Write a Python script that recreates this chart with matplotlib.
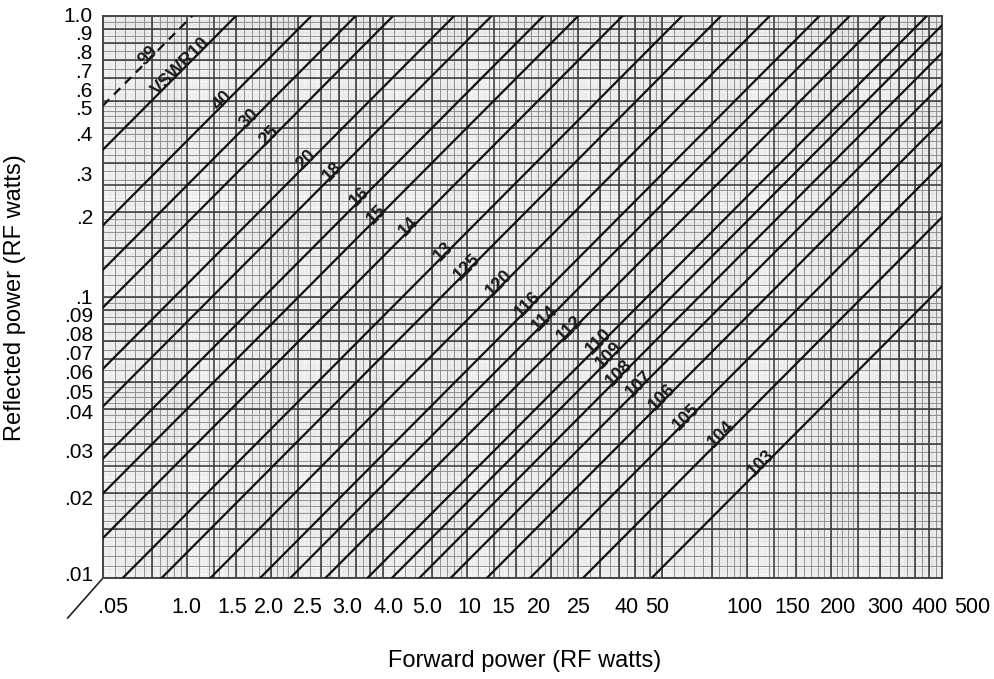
import numpy as np
import matplotlib
matplotlib.use("Agg")
import matplotlib.pyplot as plt
from matplotlib.transforms import offset_copy

plt.rcParams['font.family'] = ['Liberation Sans', 'DejaVu Sans']

# VSWR lines drawn on the chart and the text printed on each of them
vswr = [99, 10, 4.0, 3.0, 2.5, 2.0, 1.8, 1.6, 1.5, 1.4, 1.3, 1.25, 1.20, 1.16, 1.14, 1.12,
        1.10, 1.09, 1.08, 1.07, 1.06, 1.05, 1.04, 1.03]
vswr_text = ['99', 'VSWR10', '40', '30', '25', '20', '18', '16', '15', '14', '13', '125', '120',
             '116', '114', '112', '110', '109', '108', '107', '106', '105', '104', '103']
# forward power at which each label sits on its line
vswr_label_x = [0.74, 0.97, 1.36, 1.70, 2.0, 2.72, 3.37, 4.2, 4.84, 6.3, 8.4, 10.2, 13.3,
                16.8, 19.3, 23.7, 30.2, 33.0, 35.7, 42.0, 51, 62, 83, 115]

# axis ranges (log paper: 3 cycles across, 2 cycles up)
x_range = (0.5, 500)
y_range = (0.01, 1.0)

# printed axis labels, as they appear on the chart
x_labels = ['.05', '1.0', '1.5', '2.0', '2.5', '3.0', '4.0', '5.0', '10', '15', '20', '25',
            '40', '50', '100', '150', '200', '300', '400', '500']
x_label_pos = [0.012, 0.099, 0.154, 0.198, 0.244, 0.291, 0.340, 0.386, 0.437, 0.477, 0.519,
               0.567, 0.624, 0.660, 0.765, 0.821, 0.876, 0.932, 0.985, 1.036]
y_labels = ['1.0', '.9', '.8', '.7', '.6', '.5', '.4', '.3', '.2', '.1', '.09', '.08', '.07',
            '.06', '.05', '.04', '.03', '.02', '.01']
y_label_pos = [1.0, 0.968, 0.934, 0.900, 0.866, 0.833, 0.788, 0.717, 0.639, 0.498, 0.466,
               0.432, 0.398, 0.364, 0.329, 0.292, 0.224, 0.139, 0.005]

fig = plt.figure(figsize=(9.94, 6.79), dpi=100)
ax = fig.add_axes([0.1036, 0.1487, 0.8441, 0.8277])
ax.set_xscale('log')
ax.set_yscale('log')
ax.set_xlim(*x_range)
ax.set_ylim(*y_range)


def paper(starts, steps):
    vals = []
    for s in starts:
        for lo, hi, st in steps:
            vals.extend(s * np.arange(lo, hi - 1e-9, st))
    return vals


heavy = [(1, 1.01, 1), (1.5, 1.51, 1), (2, 2.01, 1), (2.5, 2.51, 1), (3, 10, 1)]
minor = [(1, 2, 0.1), (2, 5, 0.2), (5, 10, 0.5)]
fine = [(1, 2, 0.02), (2, 5, 0.05), (5, 10, 0.1)]
xs0 = [0.5, 5, 50]
ys0 = [0.01, 0.1]
for steps, col, lw in [(fine, '#d4d4d4', 0.35), (minor, '#8c8c8c', 0.65), (heavy, '#3c3c3c', 1.15)]:
    for v in paper(xs0, steps):
        ax.axvline(v, color=col, lw=lw, zorder=1)
    for v in paper(ys0, steps):
        ax.axhline(v, color=col, lw=lw, zorder=1)

for sp in ax.spines.values():
    sp.set_color('#444444')
    sp.set_linewidth(1.4)
ax.set_xticks([])
ax.set_yticks([])
ax.minorticks_off()

xx = np.logspace(np.log10(x_range[0]), np.log10(x_range[1]), 400)
for s, txt, lx in zip(vswr, vswr_text, vswr_label_x):
    r = ((s - 1) / (s + 1)) ** 2
    ls = (0, (4, 3)) if s == 99 else '-'
    ax.plot(xx, r * xx, color='#111111', lw=1.6, ls=ls, zorder=3)
    tr = offset_copy(ax.transData, fig=fig, x=0.8, y=-0.8, units='points')
    ax.text(lx, r * lx, txt, rotation=45, rotation_mode='anchor', ha='center', va='baseline',
            fontsize=13, fontweight='bold', color='#1a1a1a', transform=tr, zorder=4,
            family=['Liberation Sans Narrow', 'Liberation Sans'])

for t, p in zip(x_labels, x_label_pos):
    ax.text(p, -0.052, t, transform=ax.transAxes, ha='center', va='center', fontsize=15.5,
            clip_on=False)
for t, p in zip(y_labels, y_label_pos):
    ax.text(-0.012, p, t, transform=ax.transAxes, ha='right', va='center', fontsize=15,
            clip_on=False)

# little slash at the lower left corner of the scale
ax.plot([-0.042, 0.0], [-0.071, 0.0], color='#222222', lw=1.2, transform=ax.transAxes,
        clip_on=False)

fig.text(0.528, 0.0265, 'Forward power (RF watts)', ha='center', va='center', fontsize=17)
fig.text(0.015, 0.561, 'Reflected power (RF watts)', ha='center', va='center', fontsize=17,
         rotation=90)

fig.savefig('out.png', dpi=100)
